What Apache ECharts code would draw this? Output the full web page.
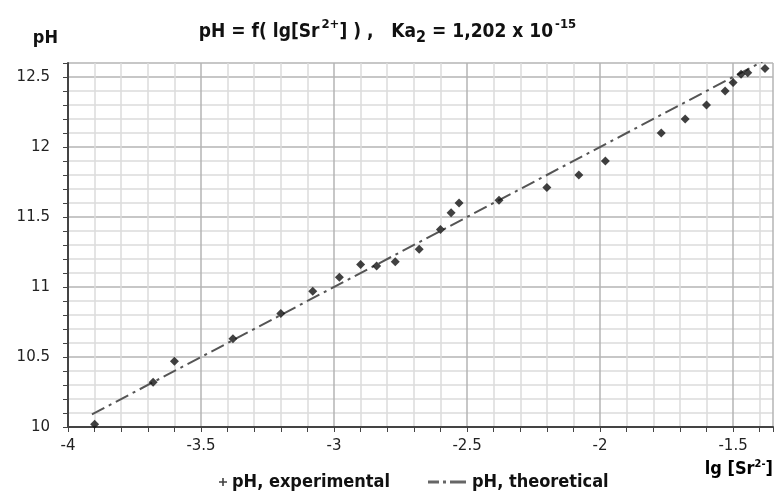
<!DOCTYPE html>
<html>
<head>
<meta charset="utf-8">
<script src="https://cdn.jsdelivr.net/npm/echarts@6/dist/echarts.min.js"></script>
<style>html,body{margin:0;padding:0;background:#fff}#c{width:775px;height:493px}</style>
</head>
<body>
<div id="c"></div>
<script>
var expX = [-3.90, -3.68, -3.60, -3.38, -3.20, -3.08, -2.98, -2.90, -2.84, -2.77, -2.68, -2.60, -2.56, -2.53, -2.38, -2.20, -2.08, -1.98, -1.77, -1.68, -1.60, -1.53, -1.50, -1.47, -1.445, -1.38];
var expY = [10.02, 10.32, 10.47, 10.63, 10.81, 10.97, 11.07, 11.16, 11.15, 11.18, 11.27, 11.41, 11.53, 11.60, 11.62, 11.71, 11.80, 11.90, 12.10, 12.20, 12.30, 12.40, 12.46, 12.52, 12.53, 12.56];
var thX = [-3.91, -1.39];
var thY = [10.09, 12.61];
var xTicks = [-4, -3.5, -3, -2.5, -2, -1.5];
var yTicks = [10, 10.5, 11, 11.5, 12, 12.5];

var expData = expX.map(function (x, i) { return [x, expY[i]]; });
var thData = thX.map(function (x, i) { return [x, thY[i]]; });
var plusPath = 'path://M4,0H6V4H10V6H6V10H4V6H0V4H4Z';
var dashDotPath = 'path://M0,0H11V3H0Z M15,0H18V3H15Z M22,0H38V3H22Z';
var titleFont = '"Liberation Sans Narrow", "DejaVu Sans Condensed", "Open Sans", sans-serif';
var legendText = { fontFamily: titleFont, fontSize: 18, fontWeight: 'bold', color: '#111' };

var chart = echarts.init(document.getElementById('c'));
chart.setOption({
  animation: false,
  backgroundColor: '#fff',
  title: {
    text: '{a|pH = f( lg[Sr}{sup|2+}{a|] ) ,   Ka}{sub|2}{a| = 1,202 x 10}{sup|-15}',
    left: 'center',
    top: 13,
    textStyle: {
      rich: {
        a: { fontFamily: titleFont, fontSize: 19, fontWeight: 'bold', color: '#111', verticalAlign: 'middle' },
        sup: { fontFamily: titleFont, fontSize: 13, color: '#111', verticalAlign: 'top', padding: [0, 0, 8, 2] },
        sub: { fontFamily: titleFont, fontSize: 16, fontWeight: 'bold', color: '#111', verticalAlign: 'bottom', padding: [12, 0, 0, 0] }
      }
    }
  },
  grid: { left: 68, right: 2, top: 63, bottom: 66, containLabel: false },
  legend: [
    {
      top: 468,
      left: 214,
      itemWidth: 8,
      itemHeight: 8,
      textStyle: legendText,
      data: [{ name: 'pH, experimental', icon: plusPath, itemStyle: { color: '#111' } }]
    },
    {
      top: 468,
      left: 423,
      itemWidth: 40,
      itemHeight: 3,
      textStyle: legendText,
      data: [{ name: 'pH, theoretical', icon: dashDotPath, itemStyle: { color: '#666' } }]
    }
  ],
  xAxis: {
    type: 'value',
    min: -4,
    max: -1.35,
    interval: 0.5,
    axisLine: { show: true, onZero: false, lineStyle: { color: '#444', width: 2 } },
    axisTick: { show: true, length: 5, lineStyle: { color: '#444' } },
    minorTick: { show: true, splitNumber: 5, length: 5, lineStyle: { color: '#444' } },
    splitLine: { show: true, lineStyle: { color: '#b4b4b4', width: 1.5 } },
    minorSplitLine: { show: true, lineStyle: { color: '#dcdcdc', width: 1.5 } },
    axisLabel: {
      margin: 12, showMaxLabel: false, fontFamily: 'DejaVu Sans', fontSize: 15, color: '#222',
      formatter: function (v) { return xTicks.indexOf(+v.toFixed(2)) >= 0 ? String(v) : ''; }
    }
  },
  yAxis: {
    type: 'value',
    min: 10,
    max: 12.6,
    interval: 0.5,
    name: 'pH',
    nameLocation: 'end',
    nameGap: 16,
    nameTextStyle: { fontFamily: titleFont, fontSize: 18, fontWeight: 'bold', color: '#111', align: 'right', padding: [0, 10, 0, 0] },
    axisLine: { show: true, onZero: false, lineStyle: { color: '#444', width: 2 } },
    axisTick: { show: true, length: 5, lineStyle: { color: '#444' } },
    minorTick: { show: true, splitNumber: 5, length: 5, lineStyle: { color: '#444' } },
    splitLine: { show: true, lineStyle: { color: '#b4b4b4', width: 1.5 } },
    minorSplitLine: { show: true, lineStyle: { color: '#dcdcdc', width: 1.5 } },
    axisLabel: {
      margin: 18, showMaxLabel: false, fontFamily: 'DejaVu Sans', fontSize: 15, color: '#222',
      formatter: function (v) { return yTicks.indexOf(+v.toFixed(2)) >= 0 ? String(v) : ''; }
    }
  },
  series: [
    {
      name: 'pH, experimental',
      type: 'scatter',
      data: expData,
      symbol: 'diamond',
      symbolSize: 9,
      itemStyle: { color: '#111' },
      z: 3
    },
    {
      name: 'pH, theoretical',
      type: 'line',
      data: thData,
      symbol: 'none',
      lineStyle: { color: '#555', width: 2, type: [14, 5, 3, 5] },
      itemStyle: { color: '#555' },
      z: 2
    }
  ],
  graphic: [
    {
      type: 'text',
      right: 2,
      top: 459,
      style: {
        text: '{a|lg [Sr}{sup|2-}{a|]}',
        rich: {
          a: { fontFamily: titleFont, fontSize: 18, fontWeight: 'bold', color: '#111' },
          sup: { fontFamily: titleFont, fontSize: 11, fontWeight: 'bold', color: '#111', verticalAlign: 'top', padding: [0, 0, 10, 0] }
        }
      }
    }
  ]
});
</script>
</body>
</html>
